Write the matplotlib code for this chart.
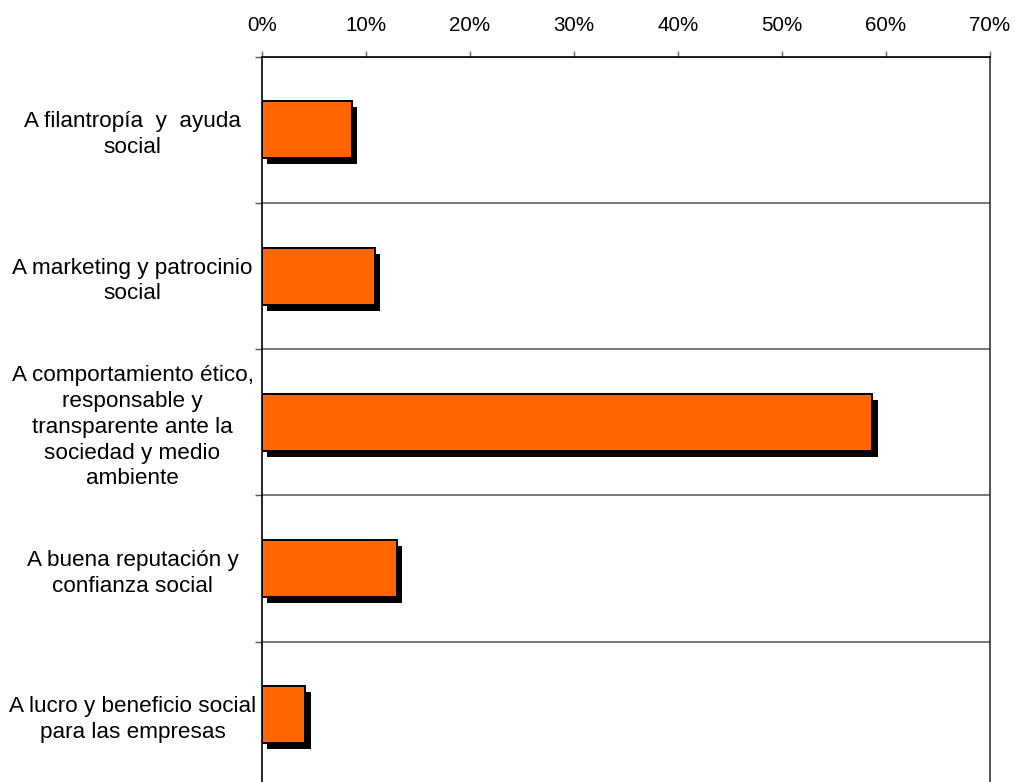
import matplotlib.pyplot as plt
import matplotlib.patheffects as pe
from matplotlib.ticker import FixedLocator, PercentFormatter

plt.rcParams["font.family"] = ["Liberation Sans", "DejaVu Sans"]

categories = [
    "A filantropía  y  ayuda\nsocial",
    "A marketing y patrocinio\nsocial",
    "A comportamiento ético,\nresponsable y\ntransparente ante la\nsociedad y medio\nambiente",
    "A buena reputación y\nconfianza social",
    "A lucro y beneficio social\npara las empresas",
]
values = [8.65, 10.9, 58.7, 13.0, 4.2]
x_ticks = [0, 10, 20, 30, 40, 50, 60, 70]

W, H = 1015, 782
fig = plt.figure(figsize=(W / 100, H / 100), dpi=100)
left, right, top, bottom = 261.7, 990, 56.7, 788
ax = fig.add_axes([left / W, 1 - bottom / H, (right - left) / W, (bottom - top) / H])

pos = list(range(len(categories)))
ax.barh(
    pos, values, height=0.39, color="#FF6600", edgecolor="black", linewidth=1.4,
    zorder=3,
    path_effects=[
        pe.SimplePatchShadow(offset=(3.8, -4.3), shadow_rgbFace="black", alpha=1),
        pe.Normal(),
    ],
)

ax.set_xlim(0, 70)
ax.set_ylim(len(categories) - 0.5, -0.5)

# x axis on top
ax.xaxis.set_ticks_position("top")
ax.xaxis.set_label_position("top")
ax.set_xticks(x_ticks)
ax.xaxis.set_major_formatter(PercentFormatter(decimals=0))
ax.tick_params(axis="x", direction="out", length=4.5, width=1, color="#666666",
               labelsize=14.8, pad=11)

# category labels centred to the left, boundaries as minor ticks
ax.set_yticks(pos)
ax.set_yticklabels(categories, ha="center", fontsize=16.2, linespacing=1.3)
ax.tick_params(axis="y", which="major", length=0, pad=93)
ax.yaxis.set_minor_locator(FixedLocator([p + 0.5 for p in pos[:-1]] + [-0.5]))
ax.tick_params(axis="y", which="minor", direction="out", length=5, width=1, color="#555555")
ax.grid(axis="y", which="minor", color="#555555", linewidth=1.1, zorder=1)

for side in ["top", "left", "right"]:
    ax.spines[side].set_color("black")
    ax.spines[side].set_linewidth(1.2)
ax.spines["right"].set_color("#333333")
ax.spines["bottom"].set_visible(False)

fig.savefig("out.png", dpi=100)
